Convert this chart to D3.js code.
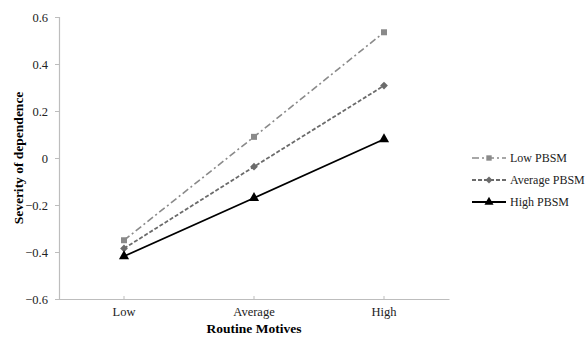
<!DOCTYPE html>
<html>
<head>
<meta charset="utf-8">
<script src="https://cdn.jsdelivr.net/npm/d3@7"></script>
<style>
  body { margin: 0; background: #fff; }
  svg, svg text { font-family: "Liberation Serif", "Times New Roman", serif; }
</style>
</head>
<body>
<div id="chart"></div>
<script>
const categories = ["Low", "Average", "High"];
const yTicks = [-0.6, -0.4, -0.2, 0, 0.2, 0.4, 0.6];
const seriesNames = ["Low PBSM", "Average PBSM", "High PBSM"];
const lowPBSM = [-0.35, 0.09, 0.535];
const averagePBSM = [-0.385, -0.037, 0.308];
const highPBSM = [-0.418, -0.17, 0.08];

const WIDTH = 587, HEIGHT = 339;
const PLOT = { LEFT: 59, RIGHT: 449, TOP: 17, BOTTOM: 299 };
const FONT = "Liberation Serif, Times New Roman, serif";

const styles = [
  { color: "#8a8a8a", dash: "7,3,2,3", width: 1.6, symbol: d3.symbolSquare, size: 36, rot: 0 },
  { color: "#6b6b6b", dash: "4,2", width: 1.8, symbol: d3.symbolSquare, size: 30, rot: 45 },
  { color: "#000000", dash: null, width: 1.8, symbol: d3.symbolTriangle, size: 45, rot: 0 }
];
const series = [lowPBSM, averagePBSM, highPBSM];

const svg = d3.select("#chart")
  .append("svg")
    .attr("width", WIDTH)
    .attr("height", HEIGHT);

const x = d3.scaleBand()
  .domain(categories)
  .range([PLOT.LEFT, PLOT.RIGHT]);

const y = d3.scaleLinear()
  .domain([-0.6, 0.6])
  .range([PLOT.BOTTOM, PLOT.TOP]);

const cx = c => x(c) + x.bandwidth() / 2;

// y axis
const yAxis = d3.axisLeft(y)
  .tickValues(yTicks)
  .tickSize(4)
  .tickPadding(7)
  .tickFormat(d => d === 0 ? "0" : d3.format(".1f")(d));

const yg = svg.append("g")
  .attr("transform", `translate(${PLOT.LEFT},0)`)
  .call(yAxis)
  .attr("font-family", FONT)
  .attr("font-size", 12.5);
yg.select(".domain").attr("stroke", "#bdbdbd").attr("stroke-width", 1.2);
yg.selectAll(".tick line").attr("stroke", "#bdbdbd");
yg.selectAll(".tick text").attr("fill", "#222");

// x axis
const xAxis = d3.axisBottom(x)
  .tickSize(0)
  .tickPadding(8);

const xg = svg.append("g")
  .attr("transform", `translate(0,${PLOT.BOTTOM})`)
  .call(xAxis)
  .attr("font-family", FONT)
  .attr("font-size", 12.5);
xg.select(".domain").attr("stroke", "#bdbdbd").attr("stroke-width", 1.2);
xg.selectAll(".tick line").remove();
xg.selectAll(".tick")
  .append("line")
    .attr("y1", 0).attr("y2", -3)
    .attr("stroke", "#bdbdbd");
xg.selectAll(".tick text").attr("fill", "#222");

// axis titles
svg.append("text")
  .attr("x", cx("Average"))
  .attr("y", 333)
  .attr("text-anchor", "middle")
  .attr("font-family", FONT)
  .attr("font-size", 13.5)
  .attr("font-weight", "bold")
  .text("Routine Motives");

svg.append("text")
  .attr("transform", `translate(23,${y(0)}) rotate(-90)`)
  .attr("text-anchor", "middle")
  .attr("font-family", FONT)
  .attr("font-size", 13.5)
  .attr("font-weight", "bold")
  .text("Severity of dependence");

// lines and markers
const line = d3.line()
  .x((d, i) => cx(categories[i]))
  .y(d => y(d));

series.forEach((vals, k) => {
  const s = styles[k];
  svg.append("path")
    .datum(vals)
    .attr("fill", "none")
    .attr("stroke", s.color)
    .attr("stroke-width", s.width)
    .attr("stroke-dasharray", s.dash)
    .attr("d", line);

  svg.selectAll(null)
    .data(vals)
    .join("path")
      .attr("transform", (d, i) => `translate(${cx(categories[i])},${y(d)}) rotate(${s.rot})`)
      .attr("d", d3.symbol().type(s.symbol).size(s.size))
      .attr("fill", s.color);
});

// legend
const legend = svg.append("g");
seriesNames.forEach((name, k) => {
  const s = styles[k];
  const ly = 158 + k * 22;
  legend.append("line")
    .attr("x1", 472).attr("x2", 506)
    .attr("y1", ly).attr("y2", ly)
    .attr("stroke", s.color)
    .attr("stroke-width", s.width)
    .attr("stroke-dasharray", s.dash);
  legend.append("path")
    .attr("transform", `translate(489,${ly}) rotate(${s.rot})`)
    .attr("d", d3.symbol().type(s.symbol).size(s.size * 0.8))
    .attr("fill", s.color);
  legend.append("text")
    .attr("x", 510)
    .attr("y", ly + 4)
    .attr("font-family", FONT)
    .attr("font-size", 12)
    .attr("fill", "#222")
    .text(name);
});
</script>
</body>
</html>
